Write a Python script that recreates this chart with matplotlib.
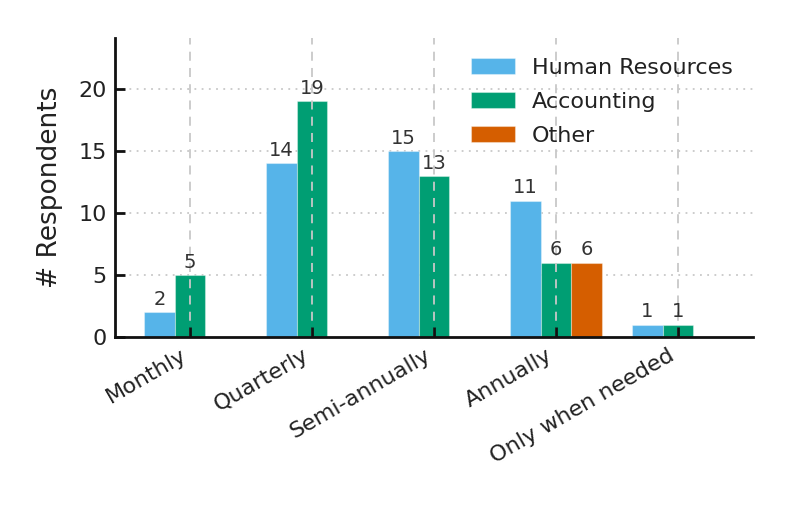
import matplotlib
matplotlib.use("Agg")
import matplotlib.pyplot as plt
import numpy as np

categories = ["Monthly", "Quarterly", "Semi-annually", "Annually", "Only when needed"]
series_names = ["Human Resources", "Accounting", "Other"]
hr = [2, 14, 15, 11, 1]
acc = [5, 19, 13, 6, 1]
other = [0, 0, 0, 6, 0]
colors = ["#56B4E9", "#009E73", "#D55E00"]
yticks = [0, 5, 10, 15, 20]

fig = plt.figure(figsize=(7.92, 5.13), dpi=100)
ax = fig.add_axes([115/792, 1-337/513, (753-115)/792, (337-38)/513])

x = np.arange(len(categories))
w = 0.25
offsets = [-w, 0, w]
for vals, off, c, name in zip([hr, acc, other], offsets, colors, series_names):
    xs = [xi + off for xi, v in zip(x, vals) if v > 0]
    vs = [v for v in vals if v > 0]
    bars = ax.bar(xs, vs, width=w, color=c, edgecolor=(1, 1, 1, 0.35), linewidth=0.8,
                  label=name, zorder=1)
    for b, v in zip(bars, vs):
        ax.text(b.get_x() + b.get_width()/2, v + 0.25, str(v), ha="center", va="bottom",
                fontsize=14, color="#333333", zorder=4)

ax.set_xlim(-0.615, 4.615)
ax.set_ylim(0, 24.1)
ax.set_yticks(yticks)
ax.set_xticks(x)
ax.set_xticklabels(categories, rotation=30, ha="right", fontsize=16, color="#222222")
ax.tick_params(axis="y", labelsize=16, labelcolor="#222222")
ax.set_ylabel("# Respondents", fontsize=19, color="#222222", labelpad=11)

for s in ["top", "right"]:
    ax.spines[s].set_visible(False)
for s in ["left", "bottom"]:
    ax.spines[s].set_linewidth(2)
    ax.spines[s].set_color("#111111")
ax.tick_params(direction="in", length=7, width=2, color="#111111")
ax.tick_params(axis="x", pad=6)
ax.tick_params(axis="y", pad=6)

# axis (ticks) drawn above bars
ax.set_axisbelow(False)
for yv in yticks[1:]:
    ax.axhline(yv, linestyle=(0, (1, 3)), color="#c8c8c8", linewidth=1.3, zorder=0.5)
for xi in x:
    ax.axvline(xi, linestyle=(0, (5, 4)), color="#c8c8c8", linewidth=1.3, zorder=2)

leg = ax.legend(loc="upper right", frameon=False, fontsize=16, handlelength=2.0, handleheight=0.7,
                labelspacing=0.62, handletextpad=0.75)
for t in leg.get_texts():
    t.set_color("#222222")

fig.savefig("out.png", dpi=100)
